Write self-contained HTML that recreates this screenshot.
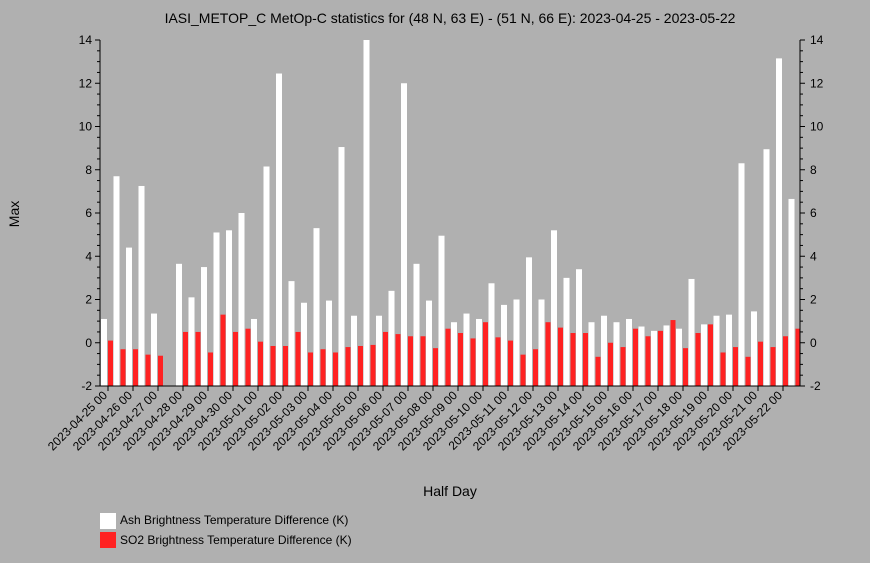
<!DOCTYPE html>
<html><head><meta charset="utf-8"><style>
body{margin:0;background:#b0b0b0;}
svg{display:block;font-family:"Liberation Sans",sans-serif;}
</style></head><body>
<svg id="chart" width="870" height="563" xmlns="http://www.w3.org/2000/svg">
<rect width="870" height="563" fill="#b0b0b0"/>
<text x="450" y="23" text-anchor="middle" font-size="14" fill="#000">IASI_METOP_C MetOp-C statistics for (48 N, 63 E) - (51 N, 66 E): 2023-04-25 - 2023-05-22</text>
<text transform="translate(19,214) rotate(-90)" text-anchor="middle" font-size="14">Max</text>
<text x="450" y="496" text-anchor="middle" font-size="14">Half Day</text>
<g id="bars"></g><g id="axes"></g>
<rect x="100" y="513" width="16" height="16" fill="#fff"/>
<text x="120" y="524" font-size="12">Ash Brightness Temperature Difference (K)</text>
<rect x="100" y="532" width="16" height="16" fill="#ff2222"/>
<text x="120" y="544" font-size="12">SO2 Brightness Temperature Difference (K)</text>
</svg>
<script>
const ashValues=[1.1,7.7,4.4,7.25,1.35,null,3.65,2.1,3.5,5.1,5.2,6.0,1.1,8.15,12.45,2.85,1.85,5.3,1.95,9.05,1.25,14.0,1.25,2.4,12.0,3.65,1.95,4.95,0.95,1.35,1.1,2.75,1.75,2.0,3.95,2.0,5.2,3.0,3.4,0.95,1.25,0.95,1.1,0.75,0.55,0.8,0.65,2.95,0.85,1.25,1.3,8.3,1.45,8.95,13.15,6.65];
const so2Values=[0.1,-0.3,-0.3,-0.55,-0.6,null,0.5,0.5,-0.45,1.3,0.5,0.65,0.05,-0.15,-0.15,0.5,-0.45,-0.3,-0.45,-0.2,-0.15,-0.1,0.5,0.4,0.3,0.3,-0.25,0.65,0.45,0.2,0.95,0.25,0.1,-0.55,-0.3,0.95,0.7,0.45,0.45,-0.65,0.0,-0.2,0.65,0.3,0.55,1.05,-0.25,0.45,0.85,-0.45,-0.2,-0.65,0.05,-0.2,0.3,0.65];
const dayLabels=["2023-04-25 00","2023-04-26 00","2023-04-27 00","2023-04-28 00","2023-04-29 00","2023-04-30 00","2023-05-01 00","2023-05-02 00","2023-05-03 00","2023-05-04 00","2023-05-05 00","2023-05-06 00","2023-05-07 00","2023-05-08 00","2023-05-09 00","2023-05-10 00","2023-05-11 00","2023-05-12 00","2023-05-13 00","2023-05-14 00","2023-05-15 00","2023-05-16 00","2023-05-17 00","2023-05-18 00","2023-05-19 00","2023-05-20 00","2023-05-21 00","2023-05-22 00"];
const yTicks=[-2,0,2,4,6,8,10,12,14];
const NS="http://www.w3.org/2000/svg";
const L=100,R=800,T=40,B=386,ymin=-2,ymax=14;
const y=v=>B-(v-ymin)/(ymax-ymin)*(B-T);
const xs=i=>108+12.5*i;
function mk(t,a,p){const e=document.createElementNS(NS,t);for(const k in a)e.setAttribute(k,a[k]);p.appendChild(e);return e;}
const bars=document.getElementById('bars'),ax=document.getElementById('axes');
ashValues.forEach((v,i)=>{if(v==null)return;
 const r=mk('rect',{x:xs(i)-7,y:y(v),width:6,height:B-y(v),fill:'#fff'},bars);
 
 });
so2Values.forEach((v,i)=>{if(v==null)return;
 const r=mk('rect',{x:xs(i),y:y(v),width:5,height:B-y(v),fill:'#ff2222'},bars);
 
 });
mk('line',{x1:L,y1:T,x2:L,y2:B,stroke:'#000'},ax);
mk('line',{x1:R,y1:T,x2:R,y2:B,stroke:'#000'},ax);
mk('line',{x1:L,y1:B,x2:R,y2:B,stroke:'#000'},ax);
for(let v=ymin;v<=ymax;v+=0.5){const yy=y(v),maj=v%2===0;
 mk('line',{x1:L-(maj?5:3),y1:yy,x2:L,y2:yy,stroke:'#000'},ax);
 mk('line',{x1:R,y1:yy,x2:R+(maj?5:3),y2:yy,stroke:'#000'},ax);}
yTicks.forEach(v=>{
 const t=mk('text',{x:L-8,y:y(v)+4,'text-anchor':'end','font-size':12},ax);t.textContent=v;
 
 
 const t2=mk('text',{x:R+10,y:y(v)+4,'font-size':12},ax);t2.textContent=v;
 
 });
dayLabels.forEach((s,d)=>{const x=xs(2*d);
 mk('line',{x1:x,y1:B,x2:x,y2:B+5,stroke:'#000'},ax);
 const t=mk('text',{transform:`translate(${x},${B+10}) rotate(-45)`,'text-anchor':'end','font-size':12},ax);t.textContent=s;
 
 });
</script>
</body></html>
